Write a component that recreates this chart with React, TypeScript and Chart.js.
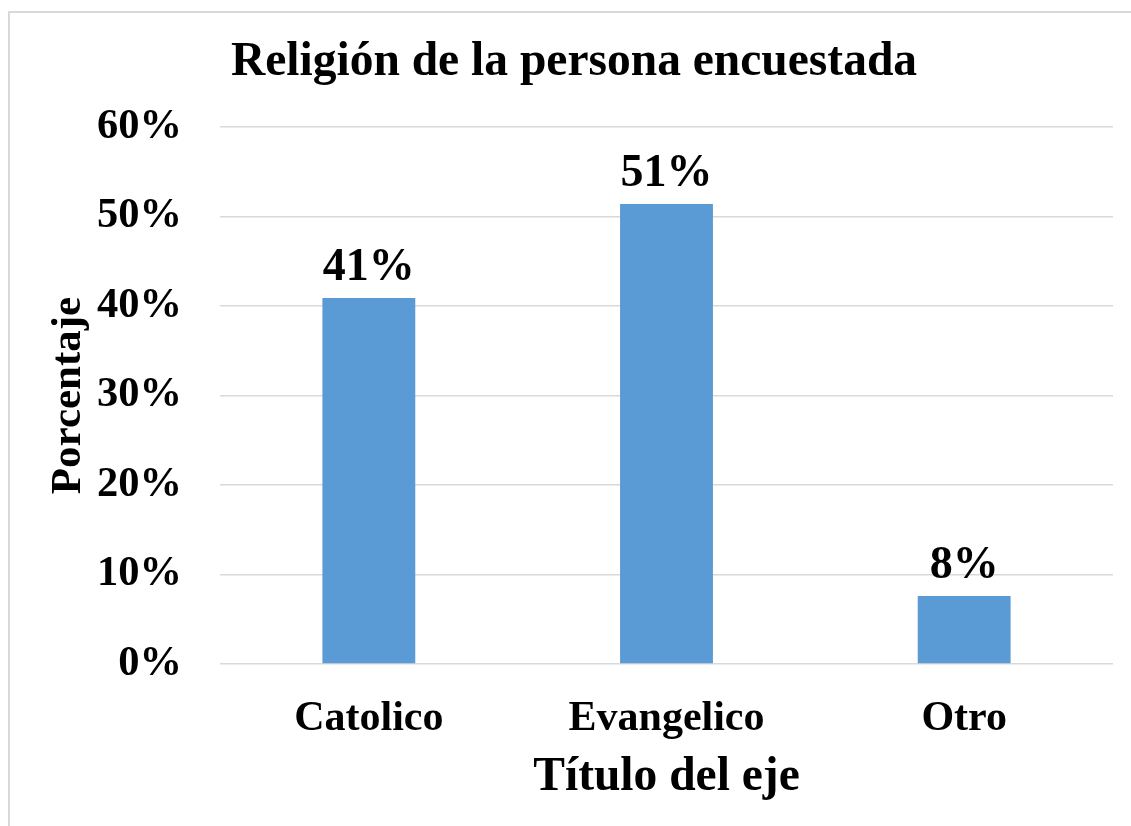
import React, { useEffect, useRef } from "react";
import { Chart, registerables } from "chart.js";

Chart.register(...registerables);

const chartTitle = "Religión de la persona encuestada";
const categories = ["Catolico", "Evangelico", "Otro"];
const shares = [0.409, 0.514, 0.076];
const yTickMax = 0.6;
const yTickStep = 0.1;
const xAxisTitle = "Título del eje";
const yAxisTitle = "Porcentaje";

const FONT = "'Liberation Serif', 'Times New Roman', serif";
const BAR_COLOR = "#5B9BD5";

export default function App() {
  const ref = useRef<HTMLCanvasElement | null>(null);

  useEffect(() => {
    if (!ref.current) return;
    const decor = {
      id: "decor",
      beforeDraw(chart: any) {
        const ctx = chart.ctx;
        ctx.save();
        ctx.fillStyle = "#ffffff";
        ctx.fillRect(0, 0, chart.width, chart.height);
        ctx.strokeStyle = "#d9d9d9";
        ctx.lineWidth = 2;
        ctx.strokeRect(9, 12, chart.width + 20, chart.height + 20);
        ctx.restore();
      },
      afterDraw(chart: any) {
        const ctx = chart.ctx;
        ctx.save();
        ctx.fillStyle = "#000000";
        ctx.font = `bold 47.5px ${FONT}`;
        ctx.textAlign = "center";
        ctx.textBaseline = "middle";
        ctx.fillText(chartTitle, 574, 63);
        const meta = chart.getDatasetMeta(0);
        ctx.font = `bold 46px ${FONT}`;
        ctx.textBaseline = "alphabetic";
        meta.data.forEach((bar: any, i: number) => {
          const label = Math.round(shares[i] * 100) + "%";
          ctx.fillText(label, bar.x, bar.y - 18);
        });
        ctx.restore();
      },
    };

    const chart = new Chart(ref.current, {
      type: "bar",
      data: {
        labels: categories,
        datasets: [
          {
            data: shares,
            backgroundColor: BAR_COLOR,
            borderWidth: 0,
            barPercentage: 0.312,
            categoryPercentage: 1,
          },
        ],
      },
      options: {
        animation: false,
        responsive: false,
        maintainAspectRatio: false,
        layout: { padding: { top: 127, right: 18, left: 0, bottom: 0 } },
        plugins: {
          legend: { display: false },
          title: { display: false },
          tooltip: { enabled: false },
        },
        scales: {
          x: {
            grid: { display: false },
            border: { display: false },
            ticks: {
              color: "#000000",
              padding: 22,
              font: { family: FONT, size: 42, weight: "bold" },
            },
            title: {
              display: true,
              text: xAxisTitle,
              color: "#000000",
              font: { family: FONT, size: 47.5, weight: "bold", lineHeight: 1 },
              padding: { top: 0, bottom: 25 },
            },
            afterFit(scale: any) {
              scale.height = 162;
            },
          },
          y: {
            min: 0,
            max: yTickMax,
            grid: { color: "#d9d9d9", lineWidth: 1.5, drawTicks: false },
            border: { display: false },
            ticks: {
              stepSize: yTickStep,
              color: "#000000",
              padding: 38,
              font: { family: FONT, size: 42.5, weight: "bold" },
              callback: (v: any) => Math.round(Number(v) * 100) + "%",
            },
            title: {
              display: true,
              text: yAxisTitle,
              color: "#000000",
              font: { family: FONT, size: 43, weight: "bold", lineHeight: 1 },
              padding: { top: 47, bottom: 0 },
            },
            afterFit(scale: any) {
              scale.width = 220;
            },
          },
        },
      },
      plugins: [decor],
    });
    return () => chart.destroy();
  }, []);

  return (
    <div style={{ position: "absolute", left: 0, top: 0, width: 1131, height: 826 }}>
      <canvas ref={ref} width={1131} height={826} style={{ width: 1131, height: 826, display: "block" }} />
    </div>
  );
}
